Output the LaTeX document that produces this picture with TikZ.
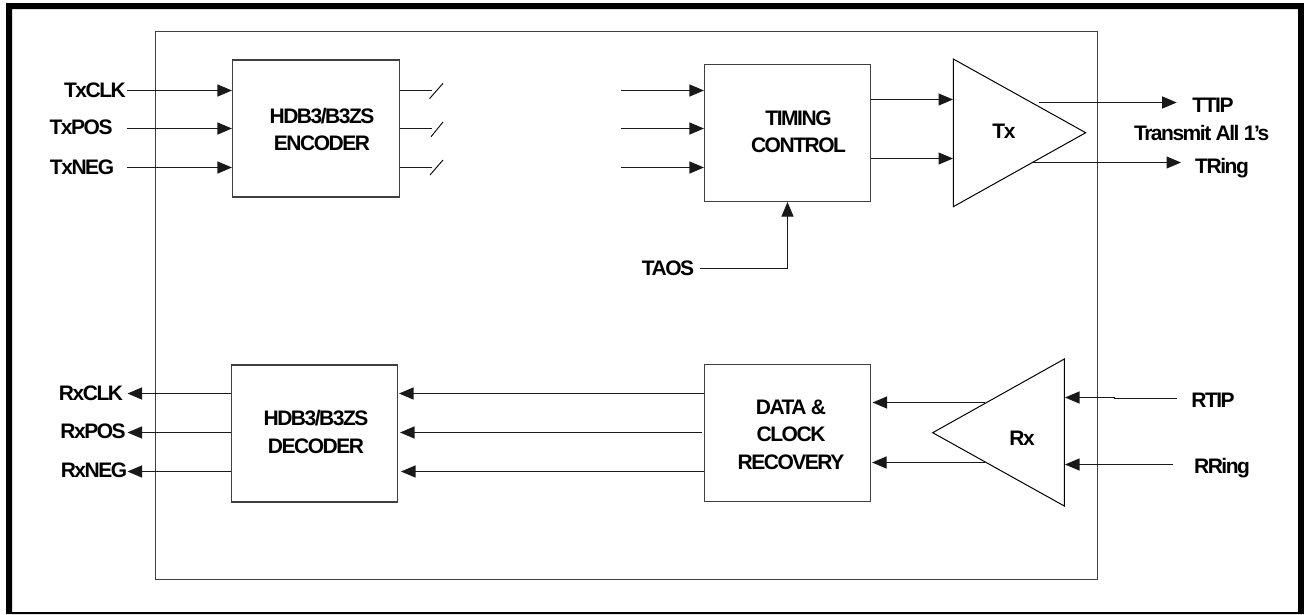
\documentclass[tikz,border=0pt]{standalone}
\usepackage{fontspec}
\setmainfont[LetterSpace=-7]{Liberation Sans}
\usetikzlibrary{arrows.meta,calc}
\tikzset{
  x=1pt,y=-1pt,
  wire/.style={line width=1.1pt,black!90},
  flow/.style={wire,-{Triangle[length=14.5pt,width=12pt]},shorten >=0pt},
  blockbox/.style={draw=black!75,line width=1.1pt,fill=white,inner sep=0pt},
  blocktext/.style={inner sep=0pt,align=center,font=\fontsize{21}{27.5}\selectfont\bfseries},
  lbl/.style={inner sep=0pt,font=\fontsize{21}{24}\selectfont\bfseries,anchor=center},
  tri/.style={draw=black,line width=1pt,line join=miter,fill=white},
}
\begin{document}
\begin{tikzpicture}
\useasboundingbox (0,0) rectangle (1304,614);
\fill[white] (0,0) rectangle (1304,614);
\fill[black,even odd rule] (6,3) rectangle (1304,614) (12,9) rectangle (1298,612);
\draw[draw=black!75,line width=1pt] (155.5,31.5) rectangle (1097.5,579.5);

% free ends
\coordinate (e1) at (432,90.5); \coordinate (e2) at (432,128.5); \coordinate (e3) at (432,167.5);
\coordinate (s1a) at (429.5,98.7); \coordinate (s1b) at (443,83.3);
\coordinate (s2a) at (431,136.7); \coordinate (s2b) at (443,122);
\coordinate (s3a) at (430,175); \coordinate (s3b) at (443,160);
\coordinate (t1) at (621,90.5); \coordinate (t2) at (621,128.5); \coordinate (t3) at (621,167.5);
\coordinate (in1) at (127,90.5); \coordinate (in2) at (127,128.5); \coordinate (in3) at (127,167.5);
\coordinate (out1) at (127.5,393.5); \coordinate (out2) at (127.5,432.5); \coordinate (out3) at (127.5,471.5);

% blocks
\node[blockbox,minimum width=167pt,minimum height=137pt] (enc) at (316,128.5) {};
\node[blockbox,minimum width=166pt,minimum height=137pt] (dec) at (314.5,433.5) {};
\node[blockbox,minimum width=166pt,minimum height=137pt] (tim) at (787.5,133) {};
\node[blockbox,minimum width=166pt,minimum height=137pt] (dat) at (787.5,433) {};
\node[blocktext] (enct) at (322,129.5) {HDB3/B3ZS\\ENCODER};
\node[blocktext] (dect) at (316,432) {HDB3/B3ZS\\DECODER};
\node[blocktext] (timt) at (798.5,132) {TIMING\\CONTROL};
\node[blocktext] (datt) at (791,434.5) {DATA \&\\CLOCK\\RECOVERY};

% triangles
\coordinate (txa) at (953.3,59); \coordinate (txb) at (953.3,206.7); \coordinate (txc) at (1085.7,132.7);
\coordinate (rxa) at (1064.3,359); \coordinate (rxb) at (1064.3,506); \coordinate (rxc) at (932.7,432.7);
\draw[tri] (txa) -- (txc) -- (txb) -- cycle;
\draw[tri] (rxa) -- (rxc) -- (rxb) -- cycle;
\node[lbl] (txl) at (1004,131.7) {Tx};
\node[lbl] (rxl) at (1022,438) {Rx};

% labels
\node[lbl] (ltxclk) at (95,90.5) {TxCLK};
\node[lbl] (ltxpos) at (81,127.5) {TxPOS};
\node[lbl] (ltxneg) at (82,167) {TxNEG};
\node[lbl] (lrxclk) at (91,393.5) {RxCLK};
\node[lbl] (lrxpos) at (93,431.5) {RxPOS};
\node[lbl] (lrxneg) at (94,470) {RxNEG};
\node[lbl] (ltaos) at (668,268) {TAOS};
\node[lbl] (lttip) at (1213,105) {TTIP};
\node[lbl] (ltx1) at (1201.7,132.7) {Transmit All 1{\char39}s};
\node[lbl] (ltring) at (1222,168) {TRing};
\node[lbl] (lrtip) at (1213,400) {RTIP};
\node[lbl] (lrring) at (1222,467.7) {RRing};

% encoder side
\draw[flow] (in1) -- (enc.west |- in1);
\draw[flow] (in2) -- (enc.west |- in2);
\draw[flow] (in3) -- (enc.west |- in3);
\draw[wire] (enc.east |- e1) -- (e1);
\draw[wire] (enc.east |- e2) -- (e2);
\draw[wire] (enc.east |- e3) -- (e3);
\draw[line width=.9pt] (s1a) -- (s1b);
\draw[line width=.9pt] (s2a) -- (s2b);
\draw[line width=.9pt] (s3a) -- (s3b);

% timing side
\draw[flow] (t1) -- (tim.west |- t1);
\draw[flow] (t2) -- (tim.west |- t2);
\draw[flow] (t3) -- (tim.west |- t3);
\coordinate (ta1) at (953,99.5); \coordinate (ta2) at (953,158.5);
\draw[flow] (tim.east |- ta1) -- (ta1);
\draw[flow] (tim.east |- ta2) -- (ta2);
\coordinate (taosA) at (699.5,268.5); \coordinate (taosB) at (787.5,268.5);
\draw[flow] (taosA) -- (taosB) -- (taosB |- tim.south);

% Tx outputs
\coordinate (o1a) at (1039,102.5); \coordinate (o1b) at (1176.7,102.5);
\coordinate (o2a) at (1033,162.5); \coordinate (o2b) at (1181,162.5);
\draw[flow] (o1a) -- (o1b);
\draw[flow] (o2a) -- (o2b);

% Rx inputs
\coordinate (r1a) at (1176.7,398.5); \coordinate (r1m) at (1115,398.5); \coordinate (r1n) at (1115,397.5); \coordinate (r1b) at (1065,397.5);
\coordinate (r2a) at (1173,464.5); \coordinate (r2b) at (1065,464.5);
\draw[wire] (r1a) -- (r1m) -- (r1n);
\draw[flow] (r1n) -- (r1b);
\draw[flow] (r2a) -- (r2b);

% Rx outputs
\coordinate (d1) at (985,402.5); \coordinate (d2) at (985,462.5);
\draw[flow] (d1) -- ($(dat.east |- d1)+(1.5,0)$);
\draw[flow] (d2) -- ($(dat.east |- d2)+(1,0)$);

% data to decoder
\coordinate (b1a) at (704,393.5); \coordinate (b2a) at (702,432.5); \coordinate (b3a) at (704,471.5);
\coordinate (b1b) at (399,393.5); \coordinate (b2b) at (400,432.5); \coordinate (b3b) at (401,471.5);
\draw[flow] (b1a) -- (b1b);
\draw[flow] (b2a) -- (b2b);
\draw[flow] (b3a) -- (b3b);

% decoder outputs
\draw[flow] (dec.west |- out1) -- (out1);
\draw[flow] (dec.west |- out2) -- (out2);
\draw[flow] (dec.west |- out3) -- (out3);
\end{tikzpicture}
\end{document}
